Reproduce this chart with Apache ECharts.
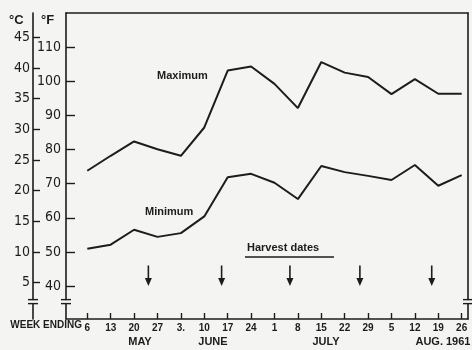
<!DOCTYPE html>
<html>
<head>
<meta charset="utf-8">
<script src="https://cdn.jsdelivr.net/npm/echarts@6.0.0/dist/echarts.min.js"></script>
<style>
  html, body { margin: 0; padding: 0; background: #f4f4f2; }
  #chart { width: 472px; height: 350px; }
</style>
</head>
<body>
<div id="chart"></div>
<script>
// week ending dates, May 6 to Aug 26 1961
const weekLabels = ['6', '13', '20', '27', '3.', '10', '17', '24', '1', '8', '15', '22', '29', '5', '12', '19', '26']
const monthLabels = ['MAY', 'JUNE', 'JULY', 'AUG. 1961']
const monthWeekPos = [2.25, 5.37, 10.2, 15.2]

// weekly mean temperatures, deg F
const maxTemp = [73.8, 78.2, 82.4, 80.1, 78.2, 86.5, 103.2, 104.4, 99.3, 92.2, 105.7, 102.6, 101.3, 96.3, 100.7, 96.4, 96.4]
const minTemp = [50.9, 52.1, 56.5, 54.4, 55.5, 60.4, 71.9, 72.9, 70.3, 65.5, 75.2, 73.4, 72.3, 71.1, 75.5, 69.4, 72.5]

// harvest dates as fractional week positions
const harvestWeeks = [2.61, 5.74, 8.66, 11.65, 14.72]

const fTicks = [40, 50, 60, 70, 80, 90, 100, 110]
const cTicks = [5, 10, 15, 20, 25, 30, 35, 40, 45]

const ink = '#1c1c1c'
const bg = '#f4f4f2'
const numFont = '"DejaVu Sans Condensed", "Liberation Sans", sans-serif'
const fMin = 30.3, fMax = 120.1
const toC = f => (f - 32) / 1.8
const weekIdx = weekLabels.map((_, i) => i)

const chart = echarts.init(document.getElementById('chart'))

const axisLine = { show: true, onZero: false, lineStyle: { color: ink, width: 1.6 } }

chart.setOption({
  backgroundColor: bg,
  animation: false,
  grid: { left: 66, right: 4, top: 13, bottom: 31 },
  xAxis: [
    {
      type: 'value', min: -0.91, max: 16.27, position: 'bottom',
      axisLine: axisLine,
      axisTick: { show: true, customValues: weekIdx, inside: true, length: 6, lineStyle: { color: ink, width: 1.4 } },
      axisLabel: {
        customValues: weekIdx, margin: 4,
        formatter: v => weekLabels[Math.round(v)],
        color: ink, fontFamily: 'Liberation Sans', fontWeight: 'bold', fontSize: 10
      },
      splitLine: { show: false }
    },
    {
      type: 'value', min: -0.91, max: 16.27, position: 'top',
      axisLine: axisLine, axisTick: { show: false }, axisLabel: { show: false }, splitLine: { show: false }
    }
  ],
  yAxis: [
    {
      type: 'value', min: fMin, max: fMax, position: 'left',
      axisLine: axisLine,
      axisTick: { show: true, customValues: fTicks, inside: true, length: 9, lineStyle: { color: ink, width: 1.4 } },
      axisLabel: { customValues: fTicks, margin: 5, color: ink, fontFamily: numFont, fontSize: 14 },
      splitLine: { show: false }
    },
    {
      type: 'value', min: toC(fMin), max: toC(fMax), position: 'left', offset: 33,
      axisLine: axisLine,
      axisTick: { show: true, customValues: cTicks, inside: true, length: 7, lineStyle: { color: ink, width: 1.4 } },
      axisLabel: { customValues: cTicks, margin: 3, color: ink, fontFamily: numFont, fontSize: 14 },
      splitLine: { show: false }
    },
    {
      type: 'value', min: fMin, max: fMax, position: 'right',
      axisLine: axisLine, axisTick: { show: false }, axisLabel: { show: false }, splitLine: { show: false }
    }
  ],
  series: [
    {
      name: 'Maximum', type: 'line', symbol: 'none',
      data: weekIdx.map(i => [i, maxTemp[i]]),
      lineStyle: { color: ink, width: 2 }
    },
    {
      name: 'Minimum', type: 'line', symbol: 'none',
      data: weekIdx.map(i => [i, minTemp[i]]),
      lineStyle: { color: ink, width: 2 }
    },
    {
      name: 'Harvest', type: 'custom',
      data: harvestWeeks.map(w => [w, 46, 40]),
      renderItem: function (params, api) {
        const top = api.coord([api.value(0), api.value(1)])
        const tip = api.coord([api.value(0), api.value(2)])
        return {
          type: 'group',
          children: [
            { type: 'line', shape: { x1: top[0], y1: top[1], x2: tip[0], y2: tip[1] - 4 }, style: { stroke: ink, lineWidth: 1.6 } },
            { type: 'polygon', shape: { points: [[tip[0] - 3.5, tip[1] - 8], [tip[0], tip[1]], [tip[0] + 3.5, tip[1] - 8]] }, style: { fill: ink } }
          ]
        }
      }
    }
  ]
})

// decorations: axis breaks, unit headers, annotations, month names
const textStyle = (extra) => Object.assign({ fill: ink, fontFamily: 'Liberation Sans', fontWeight: 'bold' }, extra)
const breakY = chart.convertToPixel({ yAxisIndex: 0 }, 35.4)
const axisXs = [33, 66, 468]
const graphics = []
axisXs.forEach(x => {
  graphics.push({ type: 'rect', z: 100, shape: { x: x - 2, y: breakY - 1.5, width: 4, height: 3 }, style: { fill: bg } })
  graphics.push({ type: 'line', z: 101, shape: { x1: x - 5, y1: breakY - 2, x2: x + 5, y2: breakY - 2 }, style: { stroke: ink, lineWidth: 1.4 } })
  graphics.push({ type: 'line', z: 101, shape: { x1: x - 5, y1: breakY + 2, x2: x + 5, y2: breakY + 2 }, style: { stroke: ink, lineWidth: 1.4 } })
})
graphics.push({ type: 'text', x: 9, y: 14, style: textStyle({ text: '°C', fontSize: 13 }) })
graphics.push({ type: 'text', x: 41, y: 14, style: textStyle({ text: '°F', fontSize: 13 }) })
graphics.push({ type: 'text', x: 157, y: 70, style: textStyle({ text: 'Maximum', fontSize: 11 }) })
graphics.push({ type: 'text', x: 145, y: 206, style: textStyle({ text: 'Minimum', fontSize: 11 }) })
graphics.push({ type: 'text', x: 247, y: 242, style: textStyle({ text: 'Harvest dates', fontSize: 11 }) })
graphics.push({ type: 'line', shape: { x1: 245, y1: 257, x2: 334, y2: 257 }, style: { stroke: ink, lineWidth: 1.4 } })
graphics.push({ type: 'text', x: 82, y: 320, style: textStyle({ text: 'WEEK ENDING', fontSize: 10, align: 'right' }) })
monthLabels.forEach((m, i) => {
  const px = chart.convertToPixel({ xAxisIndex: 0 }, monthWeekPos[i])
  graphics.push({ type: 'text', x: px, y: 336, style: textStyle({ text: m, fontSize: 11, align: 'center' }) })
})
chart.setOption({ graphic: graphics })
</script>
</body>
</html>
